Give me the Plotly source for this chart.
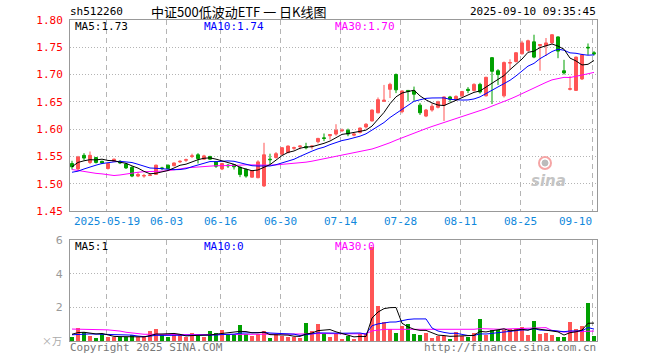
import plotly.graph_objects as go

# ---------------- data ----------------
dates_idx = list(range(88))
opens = [1.537,1.527,1.552,1.539,1.548,1.541,1.528,1.541,1.541,1.536,
         1.530,1.514,1.514,1.515,1.517,1.529,1.534,1.533,1.540,1.543,
         1.550,1.553,1.545,1.550,1.540,1.527,1.534,1.535,1.530,1.526,
         1.512,1.511,1.496,1.545,1.548,1.554,1.557,1.565,1.568,1.568,
         1.568,1.577,1.584,1.588,1.591,1.597,1.598,1.589,1.594,1.604,
         1.615,1.630,1.651,1.673,1.700,1.632,1.671,1.670,1.644,1.624,
         1.635,1.640,1.644,1.659,1.654,1.661,1.673,1.671,1.682,1.661,
         1.731,1.707,1.661,1.721,1.724,1.738,1.744,1.760,1.753,1.753,
         1.758,1.769,1.707,1.673,1.671,1.692,1.750,1.740]
highs = [1.542,1.551,1.556,1.559,1.549,1.542,1.538,1.546,1.543,1.538,
         1.532,1.521,1.518,1.518,1.535,1.531,1.535,1.539,1.543,1.546,
         1.555,1.556,1.553,1.551,1.541,1.538,1.536,1.536,1.532,1.528,
         1.525,1.543,1.575,1.555,1.558,1.567,1.570,1.568,1.570,1.575,
         1.570,1.584,1.592,1.591,1.609,1.601,1.601,1.593,1.603,1.611,
         1.636,1.658,1.681,1.685,1.702,1.671,1.671,1.678,1.648,1.637,
         1.647,1.652,1.660,1.661,1.662,1.670,1.677,1.684,1.685,1.696,
         1.732,1.710,1.724,1.728,1.741,1.762,1.764,1.773,1.756,1.767,
         1.774,1.770,1.727,1.697,1.733,1.738,1.757,1.743]
lows = [1.526,1.525,1.543,1.536,1.537,1.536,1.526,1.540,1.536,1.527,
        1.512,1.512,1.511,1.514,1.516,1.525,1.527,1.532,1.538,1.540,
        1.547,1.537,1.544,1.544,1.529,1.525,1.529,1.526,1.512,1.511,
        1.511,1.510,1.494,1.536,1.546,1.552,1.556,1.562,1.563,1.563,
        1.563,1.574,1.578,1.581,1.588,1.595,1.587,1.587,1.592,1.601,
        1.614,1.629,1.650,1.657,1.666,1.629,1.651,1.652,1.626,1.622,
        1.632,1.638,1.615,1.650,1.652,1.659,1.666,1.669,1.665,1.660,
        1.646,1.681,1.658,1.709,1.722,1.737,1.742,1.730,1.707,1.734,
        1.757,1.730,1.700,1.671,1.670,1.690,1.736,1.735]
closes = [1.531,1.549,1.547,1.552,1.539,1.538,1.537,1.545,1.538,1.529,
          1.514,1.517,1.515,1.516,1.534,1.528,1.528,1.538,1.541,1.544,
          1.551,1.546,1.551,1.545,1.532,1.537,1.533,1.531,1.517,1.514,
          1.524,1.540,1.553,1.544,1.555,1.566,1.569,1.566,1.569,1.566,
          1.569,1.583,1.583,1.590,1.598,1.598,1.591,1.591,1.602,1.609,
          1.635,1.654,1.653,1.682,1.672,1.670,1.669,1.664,1.630,1.635,
          1.642,1.650,1.659,1.655,1.660,1.669,1.671,1.682,1.668,1.695,
          1.706,1.700,1.722,1.722,1.740,1.758,1.762,1.732,1.755,1.758,
          1.773,1.743,1.703,1.674,1.732,1.736,1.749,1.738]

ma5 = [1.531,1.539,1.542,1.544,1.5436,1.545,1.5426,1.5422,1.5394,1.5374,
       1.5326,1.5286,1.5226,1.5182,1.5192,1.522,1.5242,1.5288,1.5338,1.5358,
       1.5404,1.544,1.5466,1.5474,1.545,1.5422,1.5396,1.5356,1.530,1.5264,
       1.5238,1.5252,1.5296,1.535,1.5432,1.5516,1.5574,1.560,1.565,1.5672,
       1.5678,1.5706,1.574,1.5782,1.5846,1.5904,1.592,1.5936,1.596,1.5982,
       1.6056,1.6182,1.6306,1.6466,1.6592,1.6662,1.6692,1.6714,1.661,1.6536,
       1.648,1.6442,1.6432,1.6482,1.6532,1.6586,1.6628,1.6674,1.670,1.677,
       1.6844,1.6902,1.6982,1.709,1.718,1.7284,1.7408,1.7428,1.7494,1.753,
       1.756,1.7522,1.7464,1.7302,1.725,1.7176,1.7188,1.7258]
ma10 = [1.521,1.523,1.527,1.531,1.534,1.537,1.539,1.540,1.541,1.5405,
        1.5388,1.5356,1.5324,1.5288,1.5283,1.5273,1.5264,1.5257,1.526,1.5275,
        1.5312,1.5341,1.5377,1.5406,1.5404,1.5413,1.5418,1.5411,1.5387,1.5357,
        1.533,1.5324,1.5326,1.5325,1.5348,1.5377,1.5413,1.5448,1.550,1.5552,
        1.5597,1.564,1.567,1.5716,1.5759,1.5791,1.5813,1.5838,1.5871,1.5914,
        1.598,1.6051,1.6121,1.6213,1.6287,1.6359,1.6437,1.651,1.6538,1.6564,
        1.6571,1.6567,1.6573,1.6546,1.6534,1.6533,1.6535,1.6553,1.6591,1.6651,
        1.6715,1.6765,1.6828,1.6895,1.6975,1.7064,1.7155,1.7205,1.7292,1.7355,
        1.7422,1.7465,1.7446,1.7398,1.739,1.7368,1.7355,1.7361]
ma30 = [1.526,1.524,1.522,1.520,1.519,1.518,1.517,1.515,1.516,1.518,
        1.520,1.521,1.522,1.522,1.523,1.523,1.524,1.525,1.527,1.529,
        1.530,1.531,1.532,1.532,1.533,1.533,1.533,1.533,1.534,1.5346,
        1.5343,1.534,1.5342,1.534,1.5345,1.5354,1.5365,1.5372,1.5382,1.5395,
        1.5413,1.5435,1.5458,1.5482,1.5504,1.5527,1.5548,1.5566,1.5586,1.5608,
        1.5636,1.5672,1.5706,1.5751,1.5798,1.5842,1.5888,1.5932,1.597,1.601,
        1.6049,1.6086,1.6121,1.6158,1.6193,1.6228,1.6262,1.630,1.6333,1.6376,
        1.6422,1.6461,1.6507,1.6551,1.6599,1.6652,1.6709,1.6756,1.6807,1.6857,
        1.6903,1.6932,1.6949,1.6946,1.6966,1.6988,1.7015,1.704]

volumes = [0.26,0.79,0.55,0.30,0.20,0.40,0.26,0.22,0.22,0.22,
           0.34,0.22,0.22,0.59,0.71,0.34,0.26,0.34,0.34,0.22,
           0.46,0.30,0.22,0.59,0.46,0.65,0.40,0.40,0.95,0.40,
           0.30,0.40,0.59,0.20,0.40,0.30,0.26,0.26,0.16,1.09,
           0.59,0.99,0.46,0.26,0.42,0.12,0.30,0.12,0.40,0.40,
           5.60,2.08,1.13,0.69,0.46,0.91,1.01,0.42,0.36,0.46,
           0.20,0.30,0.30,0.12,0.53,0.30,0.26,0.46,1.31,0.36,
           0.65,0.65,0.65,0.69,0.69,0.81,0.36,1.21,0.42,0.46,
           0.36,0.26,0.26,1.13,0.71,0.89,2.28,0.30]
vma5 = [0.40,0.50,0.52,0.48,0.42,0.448,0.342,0.276,0.26,0.264,
        0.252,0.244,0.244,0.318,0.416,0.416,0.424,0.448,0.398,0.30,
        0.324,0.332,0.308,0.358,0.406,0.444,0.464,0.50,0.572,0.56,
        0.49,0.49,0.528,0.378,0.378,0.378,0.35,0.284,0.276,0.414,
        0.472,0.618,0.658,0.678,0.544,0.45,0.312,0.244,0.272,0.268,
        1.364,1.72,1.922,1.98,1.992,1.054,0.84,0.698,0.632,0.632,
        0.49,0.348,0.324,0.276,0.29,0.31,0.302,0.334,0.572,0.538,
        0.608,0.686,0.724,0.60,0.666,0.698,0.64,0.752,0.698,0.652,
        0.562,0.542,0.352,0.494,0.544,0.65,1.054,1.062]
vma10 = [0.37,0.40,0.42,0.42,0.41,0.40,0.38,0.36,0.35,0.342,
         0.35,0.293,0.26,0.289,0.34,0.334,0.334,0.346,0.358,0.358,
         0.37,0.378,0.378,0.378,0.353,0.384,0.398,0.404,0.465,0.483,
         0.467,0.477,0.514,0.475,0.469,0.434,0.42,0.406,0.327,0.396,
         0.425,0.484,0.471,0.477,0.479,0.461,0.465,0.451,0.475,0.406,
         0.907,1.016,1.083,1.126,1.13,1.209,1.28,1.31,1.306,1.312,
         0.772,0.594,0.511,0.454,0.461,0.40,0.325,0.329,0.424,0.414,
         0.459,0.494,0.529,0.586,0.602,0.653,0.663,0.738,0.649,0.659,
         0.63,0.591,0.552,0.596,0.598,0.606,0.798,0.707]
vma30 = [0.71,0.71,0.71,0.70,0.68,0.67,0.66,0.64,0.59,0.52,
         0.47,0.44,0.40,0.40,0.39,0.39,0.39,0.38,0.38,0.38,
         0.38,0.39,0.39,0.39,0.39,0.39,0.39,0.39,0.39,0.394,
         0.396,0.383,0.384,0.381,0.387,0.384,0.384,0.385,0.383,0.412,
         0.421,0.446,0.454,0.443,0.434,0.426,0.428,0.420,0.422,0.428,
         0.600,0.659,0.689,0.693,0.693,0.701,0.722,0.722,0.703,0.705,
         0.701,0.698,0.688,0.686,0.69,0.69,0.69,0.697,0.735,0.711,
         0.713,0.701,0.708,0.722,0.731,0.754,0.756,0.792,0.793,0.795,
         0.620,0.560,0.531,0.545,0.554,0.553,0.595,0.591]

date_pos = [6, 16, 25, 35, 45, 55, 65, 75, 87]
date_labels = ["2025-05-19", "06-03", "06-16", "06-30", "07-14",
               "07-28", "08-11", "08-25", "09-10"]
price_ticks = [1.45, 1.50, 1.55, 1.60, 1.65, 1.70, 1.75, 1.80]
vol_ticks = [2, 4, 6]

# ---------------- styling ----------------
W, H = 660, 360
RED = "#ff5555"
GREEN = "#00a000"
MONO = "DejaVu Sans Mono"
PX_L, PX_R = 70, 597
P_TOP, P_BOT = 20, 211
V_TOP, V_BOT = 240, 341


def py(px):
    return 1 - px / H


def pxx(px):
    return px / W


xr = [-0.333, 87.5]
grid_x = [p - 0.25 for p in date_pos]

fig = go.Figure()

fig.add_trace(go.Candlestick(
    x=dates_idx, open=opens, high=highs, low=lows, close=closes,
    increasing=dict(line=dict(color=RED, width=1), fillcolor=RED),
    decreasing=dict(line=dict(color=GREEN, width=1), fillcolor=GREEN),
    whiskerwidth=0, showlegend=False, hoverinfo="skip",
    xaxis="x", yaxis="y"))

for vals, col in [(ma30, "#ff00ff"), (ma10, "#0000ff"), (ma5, "#000000")]:
    fig.add_trace(go.Scatter(x=dates_idx, y=vals, mode="lines",
                             line=dict(color=col, width=1),
                             showlegend=False, hoverinfo="skip",
                             xaxis="x", yaxis="y"))

vol_colors = [RED if c > o else GREEN for o, c in zip(opens, closes)]
fig.add_trace(go.Bar(x=dates_idx, y=volumes, marker=dict(color=vol_colors, line=dict(width=0)),
                     width=0.75, showlegend=False, hoverinfo="skip",
                     xaxis="x2", yaxis="y2"))
for vals, col in [(vma30, "#ff00ff"), (vma10, "#0000ff"), (vma5, "#000000")]:
    fig.add_trace(go.Scatter(x=dates_idx, y=vals, mode="lines",
                             line=dict(color=col, width=1),
                             showlegend=False, hoverinfo="skip",
                             xaxis="x2", yaxis="y2"))

axis_common = dict(showline=True, mirror=True, linecolor="#999999", linewidth=1,
                   zeroline=False, fixedrange=True, automargin=False)

fig.update_layout(
    width=W, height=H, autosize=False, margin=dict(l=0, r=0, t=0, b=0, pad=0),
    paper_bgcolor="white", plot_bgcolor="white",
    showlegend=False, bargap=0,
    xaxis=dict(domain=[pxx(PX_L), pxx(PX_R)], range=xr, anchor="y",
               tickmode="array", tickvals=grid_x, showticklabels=False, ticks="",
               showgrid=True, gridcolor="#b4b4b4", gridwidth=1, griddash="5px,4px",
               rangeslider=dict(visible=False), **axis_common),
    yaxis=dict(domain=[py(P_BOT), py(P_TOP)], range=[1.45, 1.80], anchor="x",
               tickmode="array", tickvals=price_ticks,
               ticktext=["%.2f" % v for v in price_ticks],
               tickfont=dict(family=MONO, size=11, color="#ff0000"),
               ticks="", ticklabelstandoff=4,
               showgrid=True, gridcolor="#b4b4b4", gridwidth=1, griddash="1px,2px",
               **axis_common),
    xaxis2=dict(domain=[pxx(PX_L), pxx(PX_R)], range=xr, anchor="y2",
                tickmode="array", tickvals=grid_x, showticklabels=False, ticks="",
                showgrid=True, gridcolor="#b4b4b4", gridwidth=1, griddash="5px,4px",
                **axis_common),
    yaxis2=dict(domain=[py(V_BOT), py(V_TOP)], range=[0, 6], anchor="x2",
                tickmode="array", tickvals=vol_ticks,
                ticktext=[str(v) for v in vol_ticks],
                tickfont=dict(family="DejaVu Sans", size=11, color="#999999"),
                ticks="", ticklabelstandoff=4,
                showgrid=True, gridcolor="#b4b4b4", gridwidth=1, griddash="1px,2px",
                **axis_common),
)

ann = []


def txt(x, y, text, color="#000000", size=10, family=MONO, xanchor="left", xref="paper"):
    ann.append(dict(x=x if xref != "paper" else pxx(x), y=py(y), xref=xref, yref="paper",
                    text=text, showarrow=False, xanchor=xanchor, yanchor="middle",
                    font=dict(family=family, size=size, color=color)))


txt(68, 12, "sh512260", size=11)
txt(149, 12, "中证500低波动ETF 一 日K线图", size=13, family="Noto Sans CJK SC")
txt(598, 12, "2025-09-10 09:35:45", size=11, xanchor="right")

txt(73, 27, "MA5:1.73", "#000000", size=11)
txt(202, 27, "MA10:1.74", "#0000ff", size=11)
txt(333, 27, "MA30:1.70", "#ff00ff", size=11)

txt(73, 246, "MA5:1", "#000000", size=11)
txt(202, 246, "MA10:0", "#0000ff", size=11)
txt(333, 246, "MA30:0", "#ff00ff", size=11)

for pos, lab in zip(date_pos, date_labels):
    anc = "right" if pos == date_pos[-1] else "center"
    ann.append(dict(x=pos - 0.25 + (0.2 if anc == "right" else 0), y=py(221), xref="x", yref="paper",
                    text=lab, showarrow=False, xanchor=anc, yanchor="middle",
                    font=dict(family=MONO, size=11, color="#1088dc")))

txt(64, 340, "×万", "#aaaaaa", size=10, family="Noto Sans CJK SC", xanchor="right")
txt(68, 347, "Copyright 2025 SINA.COM", "#777777", size=11)
txt(598, 347, "http://finance.sina.com.cn", "#777777", size=11, xanchor="right")

# sina watermark
ann.append(dict(x=pxx(548), y=py(181), xref="paper", yref="paper", text="<b><i>sina</i></b>",
                showarrow=False, xanchor="center", yanchor="middle",
                font=dict(family="DejaVu Sans", size=15, color="#c4c4c4")))
fig.update_layout(annotations=ann)
fig.add_shape(type="circle", xref="paper", yref="paper",
              x0=pxx(539), x1=pxx(551), y0=py(169), y1=py(157),
              line=dict(color="#f5a5a5", width=2), fillcolor="rgba(0,0,0,0)")
fig.add_shape(type="circle", xref="paper", yref="paper",
              x0=pxx(542), x1=pxx(548), y0=py(166), y1=py(160),
              line=dict(color="#bbbbbb", width=1), fillcolor="#bbbbbb")

post = ("document.documentElement.style.margin='0';"
        "document.body.style.margin='0';document.body.style.padding='0';"
        "document.body.style.overflow='hidden';"
        "var gd=document.getElementById('{plot_id}');"
        "Plotly.relayout(gd,{width:660,height:360});")
fig.write_html("out.html", post_script=post,
               config={"responsive": False, "displayModeBar": False, "staticPlot": True})
